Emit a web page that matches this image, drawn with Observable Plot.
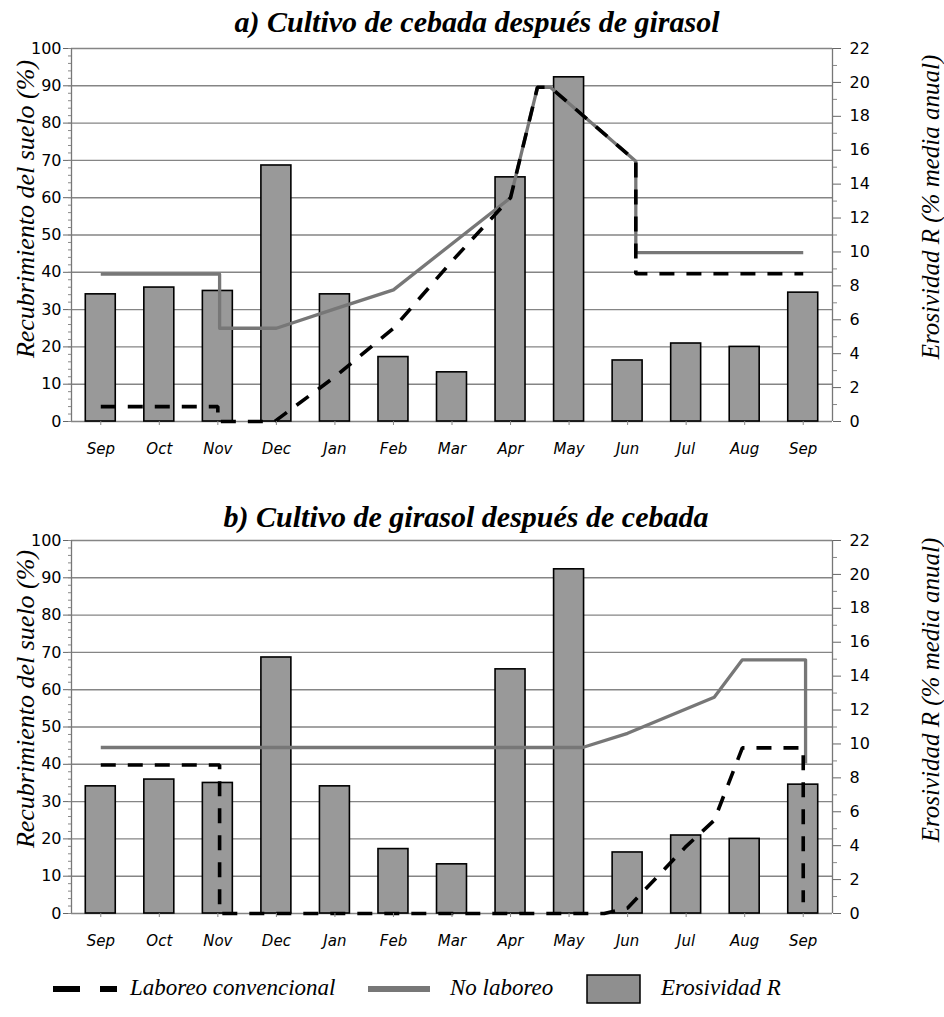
<!DOCTYPE html>
<html>
<head>
<meta charset="utf-8">
<script src="https://cdn.jsdelivr.net/npm/d3@7"></script>
<script src="https://cdn.jsdelivr.net/npm/@observablehq/plot@0.6"></script>
<style>
  html, body { margin: 0; padding: 0; background: #fff; }
  body { width: 944px; height: 1017px; overflow: hidden; }
  #a, #b { height: auto; line-height: 0; }
  #legend { position: relative; width: 944px; height: 57px; font-family: "Liberation Serif", "Times New Roman", serif; font-style: italic; font-size: 23px; color: #000; }
  #legend .lbl { position: absolute; top: 14px; line-height: 28px; white-space: nowrap; }
  #legend svg { position: absolute; top: 14px; }
</style>
</head>
<body>
<div id="a"></div>
<div id="b"></div>
<div id="legend">
  <svg style="left:53px" width="64" height="30"><line x1="0" y1="15" x2="64" y2="15" stroke="#000" stroke-width="6" stroke-dasharray="27,20"></line></svg>
  <span class="lbl" style="left:130px">Laboreo convencional</span>
  <svg style="left:368px" width="62" height="30"><line x1="0" y1="15" x2="62" y2="15" stroke="#777" stroke-width="6"></line></svg>
  <span class="lbl" style="left:450px">No laboreo</span>
  <svg style="left:586px" width="56" height="30"><rect x="1" y="1" width="53" height="28" fill="#8f8f8f" stroke="#000" stroke-width="1.5"></rect></svg>
  <span class="lbl" style="left:661px">Erosividad R</span>
</div>
<script>
// ---- data ----
const months = ["Sep","Oct","Nov","Dec","Jan","Feb","Mar","Apr","May","Jun","Jul","Aug","Sep"];
// Erosividad R (% media anual), one bar per month (same in both panels)
const erosividad = [7.5, 7.9, 7.7, 15.1, 7.5, 3.8, 2.9, 14.4, 20.3, 3.6, 4.6, 4.4, 7.6];
// right-axis ticks (% media anual)
const rightTicks = [0, 2, 4, 6, 8, 10, 12, 14, 16, 18, 20, 22];
const rightMax = 22;
const leftTicks = [0, 10, 20, 30, 40, 50, 60, 70, 80, 90, 100];

// Ground cover lines: [position in months from first Sep, cover %]
const aNoLaboreo = [[0,39.5],[2.03,39.5],[2.03,25],[3,25],[4,30.2],[5,35.3],[7,60],[7.46,89.6],[7.68,89.6],[9.14,69.8],[9.14,45.3],[12,45.3]];
const aConvencional = [[0,4],[2,4],[2,0],[2.97,0],[4,12],[5,25],[6,43],[7,60],[7.46,89.6],[7.68,89.6],[9.14,69.8],[9.14,39.6],[12,39.6]];
const bNoLaboreo = [[0,44.5],[8.23,44.5],[9,48.3],[10.48,58],[10.96,68],[12.04,68],[12.04,40.2]];
const bConvencional = [[0,39.8],[2.03,39.8],[2.03,0],[8.6,0],[9,1.5],[10,18],[10.48,25],[10.96,44.4],[12,44.4],[12,3]];

const titleA = "a) Cultivo de cebada después de girasol";
const titleB = "b) Cultivo de girasol después de cebada";
const leftLabel = "Recubrimiento del suelo (%)";
const rightLabel = "Erosividad R (% media anual)";

// ---- chart ----
const bars = erosividad.map((r, i) => ({i, r}));
const xDomain = [-0.5, months.length - 0.5];
const toLeft = v => v * 100 / rightMax;
const serif = "Liberation Serif, Times New Roman, serif";

function panel({title, conv, nolab, height, marginTop, marginBottom, titleDx, titleDy, leftDy, rightDy}) {
  return Plot.plot({
    width: 944,
    height,
    marginLeft: 71,
    marginRight: 112,
    marginTop,
    marginBottom,
    x: {domain: xDomain},
    y: {domain: [0, 100]},
    style: {fontFamily: "DejaVu Sans, sans-serif", fontSize: "16px", color: "#000", background: "#fff", overflow: "visible"},
    marks: [
      Plot.ruleY(leftTicks, {stroke: "#858585", strokeWidth: 1.4}),
      Plot.rectY(bars, {x1: d => d.i - 0.256, x2: d => d.i + 0.256, y1: 0, y2: d => toLeft(d.r), fill: "#999", stroke: "#000", strokeWidth: 1.6}),
      Plot.ruleX([xDomain[0]], {stroke: "#777", strokeWidth: 1.3}),
      Plot.ruleX([xDomain[1]], {stroke: "#777", strokeWidth: 1.3}),
      Plot.line(nolab, {x: d => d[0], y: d => d[1], stroke: "#777", strokeWidth: 3.3, strokeLinecap: "butt", strokeLinejoin: "round"}),
      Plot.line(conv, {x: d => d[0], y: d => d[1], stroke: "#000", strokeWidth: 3.6, strokeDasharray: "15,12", strokeLinecap: "butt", strokeLinejoin: "miter"}),
      Plot.axisY({ticks: leftTicks, anchor: "left", tickSize: 8, tickPadding: 2, fontSize: 16, stroke: "#666", label: null}),
      Plot.axisY({ticks: d3.range(0, 101, 2), anchor: "left", tickSize: 3, tickFormat: () => "", stroke: "#888", label: null}),
      Plot.axisY({ticks: rightTicks.map(toLeft), anchor: "right", tickSize: 8, tickPadding: 9, tickFormat: d => Math.round(d * rightMax / 100), fontSize: 16, stroke: "#666", label: null}),
      Plot.axisY({ticks: d3.range(1, rightMax, 2).map(toLeft), anchor: "right", tickSize: 4, tickFormat: () => "", stroke: "#888", label: null}),
      Plot.axisX({ticks: d3.range(months.length), tickFormat: i => months[i], tickSize: 4, tickPadding: 18, fontSize: 15, fontStyle: "italic", stroke: "#888", label: null}),
      Plot.text([title], {frameAnchor: "top", dx: titleDx, dy: titleDy, lineAnchor: "middle", textAnchor: "middle", fontFamily: serif, fontStyle: "italic", fontWeight: "bold", fontSize: 30}),
      Plot.text([leftLabel], {frameAnchor: "left", rotate: -90, dx: -46, dy: leftDy, textAnchor: "middle", lineAnchor: "middle", fontFamily: serif, fontStyle: "italic", fontSize: 26}),
      Plot.text([rightLabel], {frameAnchor: "right", rotate: -90, dx: 98, dy: rightDy, textAnchor: "middle", lineAnchor: "middle", fontFamily: serif, fontStyle: "italic", fontSize: 25})
    ]
  });
}

document.getElementById("a").append(panel({title: titleA, conv: aConvencional, nolab: aNoLaboreo, height: 470, marginTop: 48, marginBottom: 49, titleDx: 25, titleDy: -26, leftDy: -26, rightDy: -28}));
document.getElementById("b").append(panel({title: titleB, conv: bConvencional, nolab: bNoLaboreo, height: 490, marginTop: 70, marginBottom: 47, titleDx: 14, titleDy: -23, leftDy: -28, rightDy: -37}));
</script>
</body>
</html>
